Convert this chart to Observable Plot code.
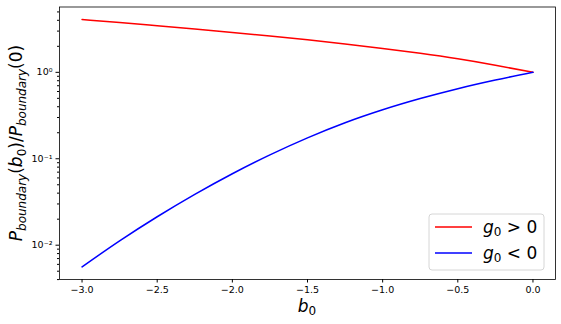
<!DOCTYPE html>
<html>
<head>
<meta charset="utf-8">
<script src="https://cdn.jsdelivr.net/npm/d3@7"></script>
<script src="https://cdn.jsdelivr.net/npm/@observablehq/plot@0.6"></script>
<style>
  html, body { margin: 0; padding: 0; background: white; }
  #chart svg { display: block; }
</style>
</head>
<body>
<div id="chart"></div>
<script>
// b0 sample points
const b0 = [-3.0, -2.75, -2.5, -2.25, -2.0, -1.75, -1.5, -1.25, -1.0, -0.75, -0.5, -0.25, 0.0];
// P_boundary(b0)/P_boundary(0) for g0 > 0 (red)
const ratioPos = [4.083, 3.767, 3.459, 3.170, 2.897, 2.636, 2.382, 2.133, 1.892, 1.660, 1.432, 1.208, 1.0];
// P_boundary(b0)/P_boundary(0) for g0 < 0 (blue)
const ratioNeg = [0.00561, 0.01122, 0.02133, 0.03873, 0.06714, 0.1109, 0.1746, 0.2612, 0.3690, 0.4977, 0.6471, 0.8147, 1.0];

const xTicks = [-3.0, -2.5, -2.0, -1.5, -1.0, -0.5, 0.0];
const yMajor = [0.01, 0.1, 1];
const yMajorLabels = ["10\u207B\u00B2", "10\u207B\u00B9", "10\u2070"];
const yMinor = [0.004, 0.005, 0.006, 0.007, 0.008, 0.009,
                0.02, 0.03, 0.04, 0.05, 0.06, 0.07, 0.08, 0.09,
                0.2, 0.3, 0.4, 0.5, 0.6, 0.7, 0.8, 0.9,
                2, 3, 4, 5];
const seriesOps = [">", "<"];
const seriesColors = ["#ff0000", "#0000ff"];

const pos = b0.map((b, i) => ({b, v: ratioPos[i]}));
const neg = b0.map((b, i) => ({b, v: ratioNeg[i]}));

const chart = Plot.plot({
  width: 561,
  height: 324,
  marginLeft: 59,
  marginRight: 6,
  marginTop: 6.5,
  marginBottom: 45,
  style: {fontFamily: "DejaVu Sans", fontSize: "9.5px", background: "white", color: "black"},
  x: {domain: [-3.15, 0.15]},
  y: {type: "log", domain: [Math.pow(10, -2.397), Math.pow(10, 0.756)]},
  marks: [
    Plot.axisX({ticks: xTicks, tickFormat: d3.format(".1f"), tickSize: 3.5, tickPadding: 3.5, label: null}),
    Plot.axisY({ticks: yMajor, tickFormat: (d) => yMajorLabels[yMajor.indexOf(d)], tickSize: 3.5, tickPadding: 3.5, label: null}),
    Plot.axisY({ticks: yMinor, tickFormat: () => "", tickSize: 2, label: null}),
    Plot.line(pos, {x: "b", y: "v", stroke: seriesColors[0], strokeWidth: 1.5, curve: "monotone-x"}),
    Plot.line(neg, {x: "b", y: "v", stroke: seriesColors[1], strokeWidth: 1.5, curve: "monotone-x"}),
    Plot.frame({stroke: "black", strokeWidth: 0.8})
  ]
});

document.getElementById("chart").appendChild(chart);

const svg = d3.select(chart);
const ns = "DejaVu Sans";

// x-axis label: b_0
const xl = svg.append("text")
  .attr("x", 307).attr("y", 312)
  .attr("text-anchor", "middle")
  .attr("font-family", ns).attr("font-size", 17).attr("fill", "black");
xl.append("tspan").attr("font-style", "italic").text("b");
xl.append("tspan").attr("font-size", 12).attr("dy", 3).text("0");

// y-axis label
const yl = svg.append("text")
  .attr("transform", "translate(22,143) rotate(-90)")
  .attr("text-anchor", "middle")
  .attr("font-family", ns).attr("font-size", 17).attr("fill", "black");
yl.append("tspan").attr("font-style", "italic").text("P");
yl.append("tspan").attr("font-style", "italic").attr("font-size", 12).attr("dy", 4).text("boundary");
yl.append("tspan").attr("dy", -4).text("(");
yl.append("tspan").attr("font-style", "italic").text("b");
yl.append("tspan").attr("font-size", 12).attr("dy", 4).text("0");
yl.append("tspan").attr("dy", -4).text(")/");
yl.append("tspan").attr("font-style", "italic").text("P");
yl.append("tspan").attr("font-style", "italic").attr("font-size", 12).attr("dy", 4).text("boundary");
yl.append("tspan").attr("dy", -4).text("(0)");

// legend
const lg = svg.append("g");
lg.append("rect")
  .attr("x", 429).attr("y", 214).attr("width", 115).attr("height", 56)
  .attr("rx", 3).attr("fill", "white").attr("fill-opacity", 0.8)
  .attr("stroke", "#cccccc").attr("stroke-width", 0.8);
seriesOps.forEach((op, i) => {
  const y = 227 + i * 26;
  lg.append("line")
    .attr("x1", 435).attr("x2", 472).attr("y1", y).attr("y2", y)
    .attr("stroke", seriesColors[i]).attr("stroke-width", 1.5);
  const t = lg.append("text")
    .attr("x", 483).attr("y", y + 6)
    .attr("text-anchor", "start")
    .attr("font-family", ns).attr("font-size", 17).attr("fill", "black");
  t.append("tspan").attr("font-style", "italic").text("g");
  t.append("tspan").attr("font-size", 12).attr("dy", 3).text("0");
  t.append("tspan").attr("dy", -3).text(" " + op + " 0");
});
</script>
</body>
</html>
